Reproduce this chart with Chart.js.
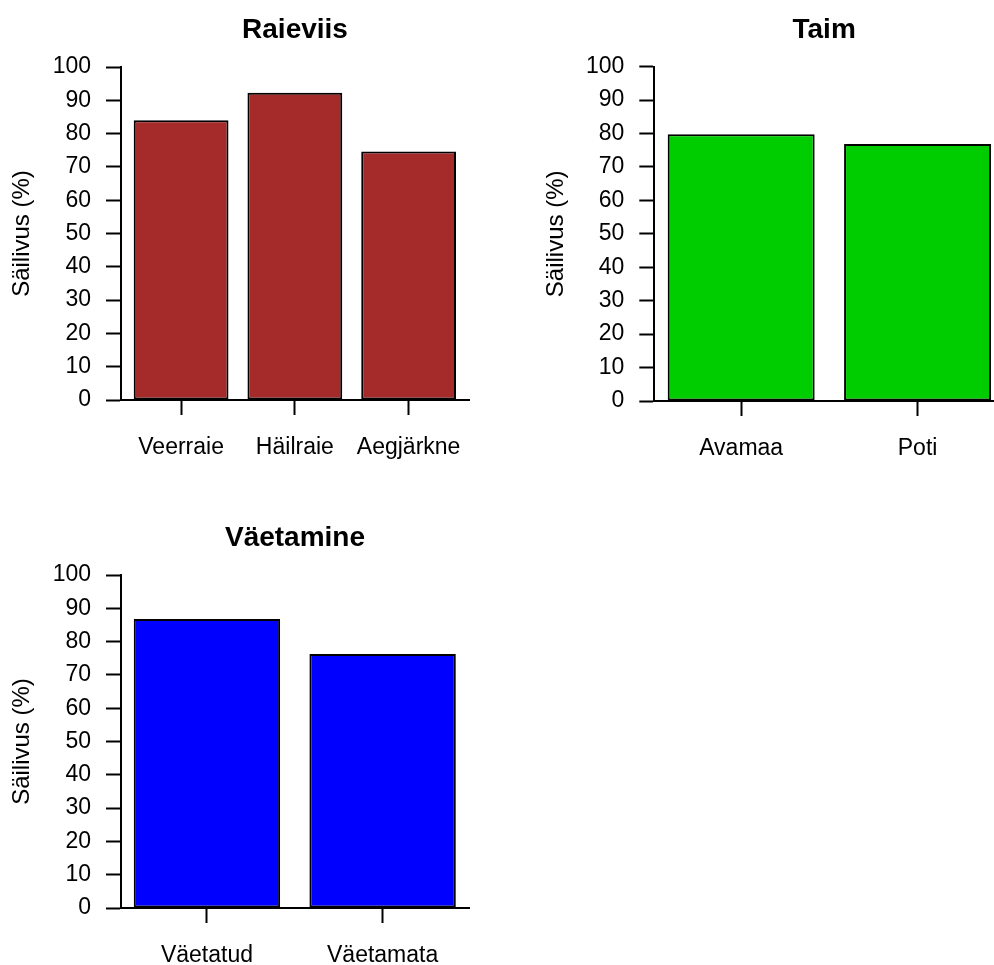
<!DOCTYPE html>
<html>
<head>
<meta charset="utf-8">
<script src="https://cdn.jsdelivr.net/npm/chart.js@4/dist/chart.umd.min.js"></script>
<style>
  body { margin: 0; background: #fff; }
  #wrap { position: relative; width: 994px; height: 965px; overflow: hidden; }
  canvas { position: absolute; }
</style>
</head>
<body>
<div id="wrap">
  <canvas id="c1" width="497" height="482" style="left:0;top:0"></canvas>
  <canvas id="c2" width="497" height="482" style="left:497px;top:0"></canvas>
  <canvas id="c3" width="497" height="457" style="left:0;top:508px"></canvas>
</div>
<script>
// values
const raieviisLabels = ['Veerraie', 'Häilraie', 'Aegjärkne'];
const raieviisValues = [84.0, 92.3, 74.6];
const taimLabels = ['Avamaa', 'Poti'];
const taimValues = [79.8, 76.9];
const vaetamineLabels = ['Väetatud', 'Väetamata'];
const vaetamineValues = [86.8, 76.3];
const yTicks = [0, 10, 20, 30, 40, 50, 60, 70, 80, 90, 100];
const yTitle = 'Säilivus (%)';

const FONT = "'Liberation Sans', Arial, sans-serif";

function makeChart(id, title, labels, values, color, lay) {
  // bar midpoints like R's barplot (width 1, space 0.2)
  const mids = labels.map((_, i) => 0.7 + 1.2 * i);
  return new Chart(document.getElementById(id), {
    type: 'bar',
    data: {
      datasets: [{
        data: values.map((v, i) => ({ x: mids[i], y: v })),
        backgroundColor: color,
        borderColor: '#000',
        borderWidth: 2,
        borderSkipped: false,
        barPercentage: 1 / 1.2,
        categoryPercentage: 1
      }]
    },
    options: {
      responsive: false,
      animation: false,
      layout: { padding: { left: 0, right: lay.right, top: 0, bottom: 0 } },
      plugins: {
        legend: { display: false },
        tooltip: { enabled: false },
        title: {
          display: true,
          text: title,
          fullSize: false,
          color: '#000',
          font: { family: FONT, size: 28, weight: 'bold' },
          padding: { top: 13.2, bottom: lay.top - 13.2 - 33.6 }
        }
      },
      scales: {
        x: {
          type: 'linear',
          offset: false,
          min: lay.xmin,
          max: lay.xmax,
          afterBuildTicks: s => { s.ticks = mids.map(v => ({ value: v })); },
          afterFit: s => { s.height = lay.bottom; },
          ticks: {
            autoSkip: false,
            maxRotation: 0,
            color: '#000',
            padding: 19,
            font: { family: FONT, size: 23 },
            callback: (v, i) => labels[i]
          },
          grid: { offset: false, drawOnChartArea: false, tickLength: 15, tickColor: '#000', tickWidth: 2 },
          border: { color: '#000', width: 2 }
        },
        y: {
          min: 0,
          max: 100,
          afterBuildTicks: s => { s.ticks = yTicks.map(v => ({ value: v })); },
          afterFit: s => { s.width = lay.left; },
          ticks: {
            color: '#000',
            padding: 15,
            font: { family: FONT, size: 23 }
          },
          grid: { drawOnChartArea: false, tickLength: 15, tickColor: '#000', tickWidth: 2 },
          border: { color: '#000', width: 2 },
          title: {
            display: true,
            text: yTitle,
            color: '#000',
            font: { family: FONT, size: 24 },
            padding: { top: lay.ytitle - 14.4, bottom: 0 }
          }
        }
      }
    }
  });
}

makeChart('c1', 'Raieviis', raieviisLabels, raieviisValues, '#A52A2A',
  { left: 121, right: 28, top: 67, bottom: 82, xmin: 0.066, xmax: 3.737, ytitle: 22 });
makeChart('c2', 'Taim', taimLabels, taimValues, '#00CD00',
  { left: 157.3, right: 0, top: 66.7, bottom: 81, xmin: 0.109, xmax: 2.42, ytitle: 59 });
makeChart('c3', 'Väetamine', vaetamineLabels, vaetamineValues, '#0000FF',
  { left: 121, right: 28, top: 67, bottom: 57, xmin: 0.113, xmax: 2.49, ytitle: 22 });
</script>
</body>
</html>
